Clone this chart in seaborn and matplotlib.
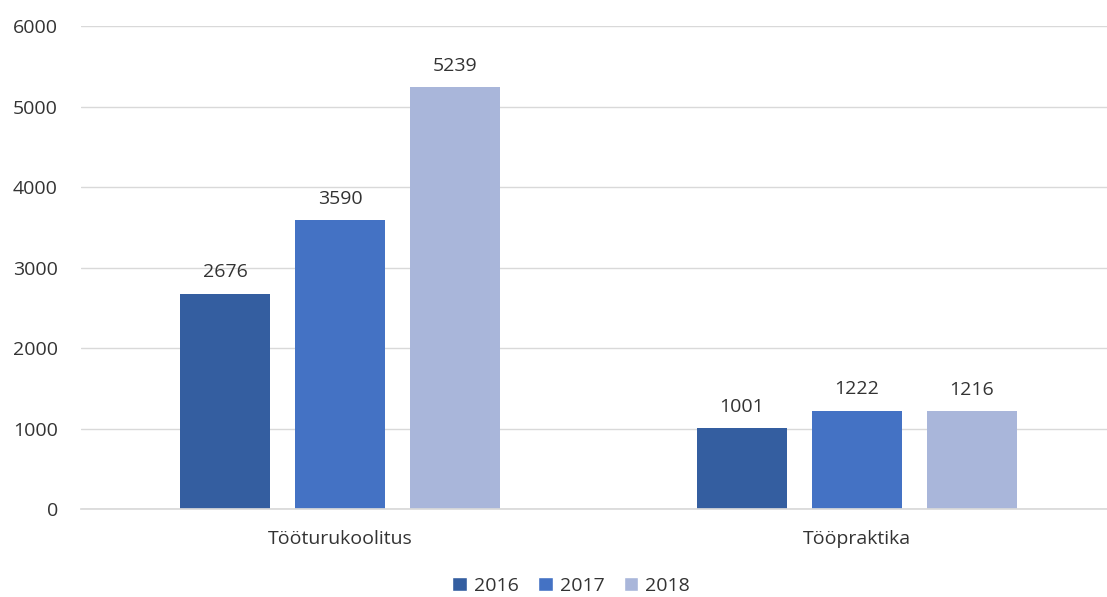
import matplotlib
matplotlib.use("Agg")
import matplotlib.pyplot as plt
import seaborn as sns
import pandas as pd
from matplotlib.patches import Patch

categories = ["Tööturukoolitus", "Tööpraktika"]
years = ["2016", "2017", "2018"]
values_2016 = [2676, 1001]
values_2017 = [3590, 1222]
values_2018 = [5239, 1216]
y_ticks = [0, 1000, 2000, 3000, 4000, 5000, 6000]

colors = ["#345EA0", "#4472C4", "#A9B6DA"]

rows = []
for yr, vals in zip(years, [values_2016, values_2017, values_2018]):
    for c, v in zip(categories, vals):
        rows.append({"cat": c, "year": yr, "value": v})
df = pd.DataFrame(rows)

sns.set_theme(style="white")
plt.rcParams["font.family"] = ["Open Sans", "DejaVu Sans"]

FS = 14

fig = plt.figure(figsize=(11.07, 5.97), dpi=100)
ax = fig.add_axes([0.0736, 0.1474, 0.9264, 0.809])

sns.barplot(data=df, x="cat", y="value", hue="year", order=categories,
            hue_order=years, palette=colors, width=0.667, gap=0.22,
            saturation=1, linewidth=0, ax=ax, legend=False)

ax.set_ylim(0, 6000)
ax.set_xlim(-0.5, 1.4836)
ax.set_yticks(y_ticks)
ax.set_yticklabels([str(t) for t in y_ticks], fontsize=FS, color="#333333")
ax.tick_params(axis="y", length=0, pad=17)
ax.tick_params(axis="x", length=0, pad=15, labelsize=FS, labelcolor="#333333")
ax.set_xlabel("")
ax.set_ylabel("")
ax.grid(axis="y", color="#D9D9D9", linewidth=1)
ax.set_axisbelow(True)
for s in ["left", "right", "top"]:
    ax.spines[s].set_visible(False)
ax.spines["bottom"].set_color("#D9D9D9")

for cont in ax.containers:
    ax.bar_label(cont, fmt="%d", padding=9, fontsize=FS, color="#333333")

handles = [Patch(facecolor=c, label=y) for c, y in zip(colors, years)]
fig.legend(handles=handles, loc="lower center", bbox_to_anchor=(0.516, -0.026),
           ncol=3, frameon=False, fontsize=FS, handlelength=0.75,
           handleheight=0.75, handletextpad=0.35, columnspacing=1.0,
           labelcolor="#333333")

fig.savefig("out.png", dpi=100)
